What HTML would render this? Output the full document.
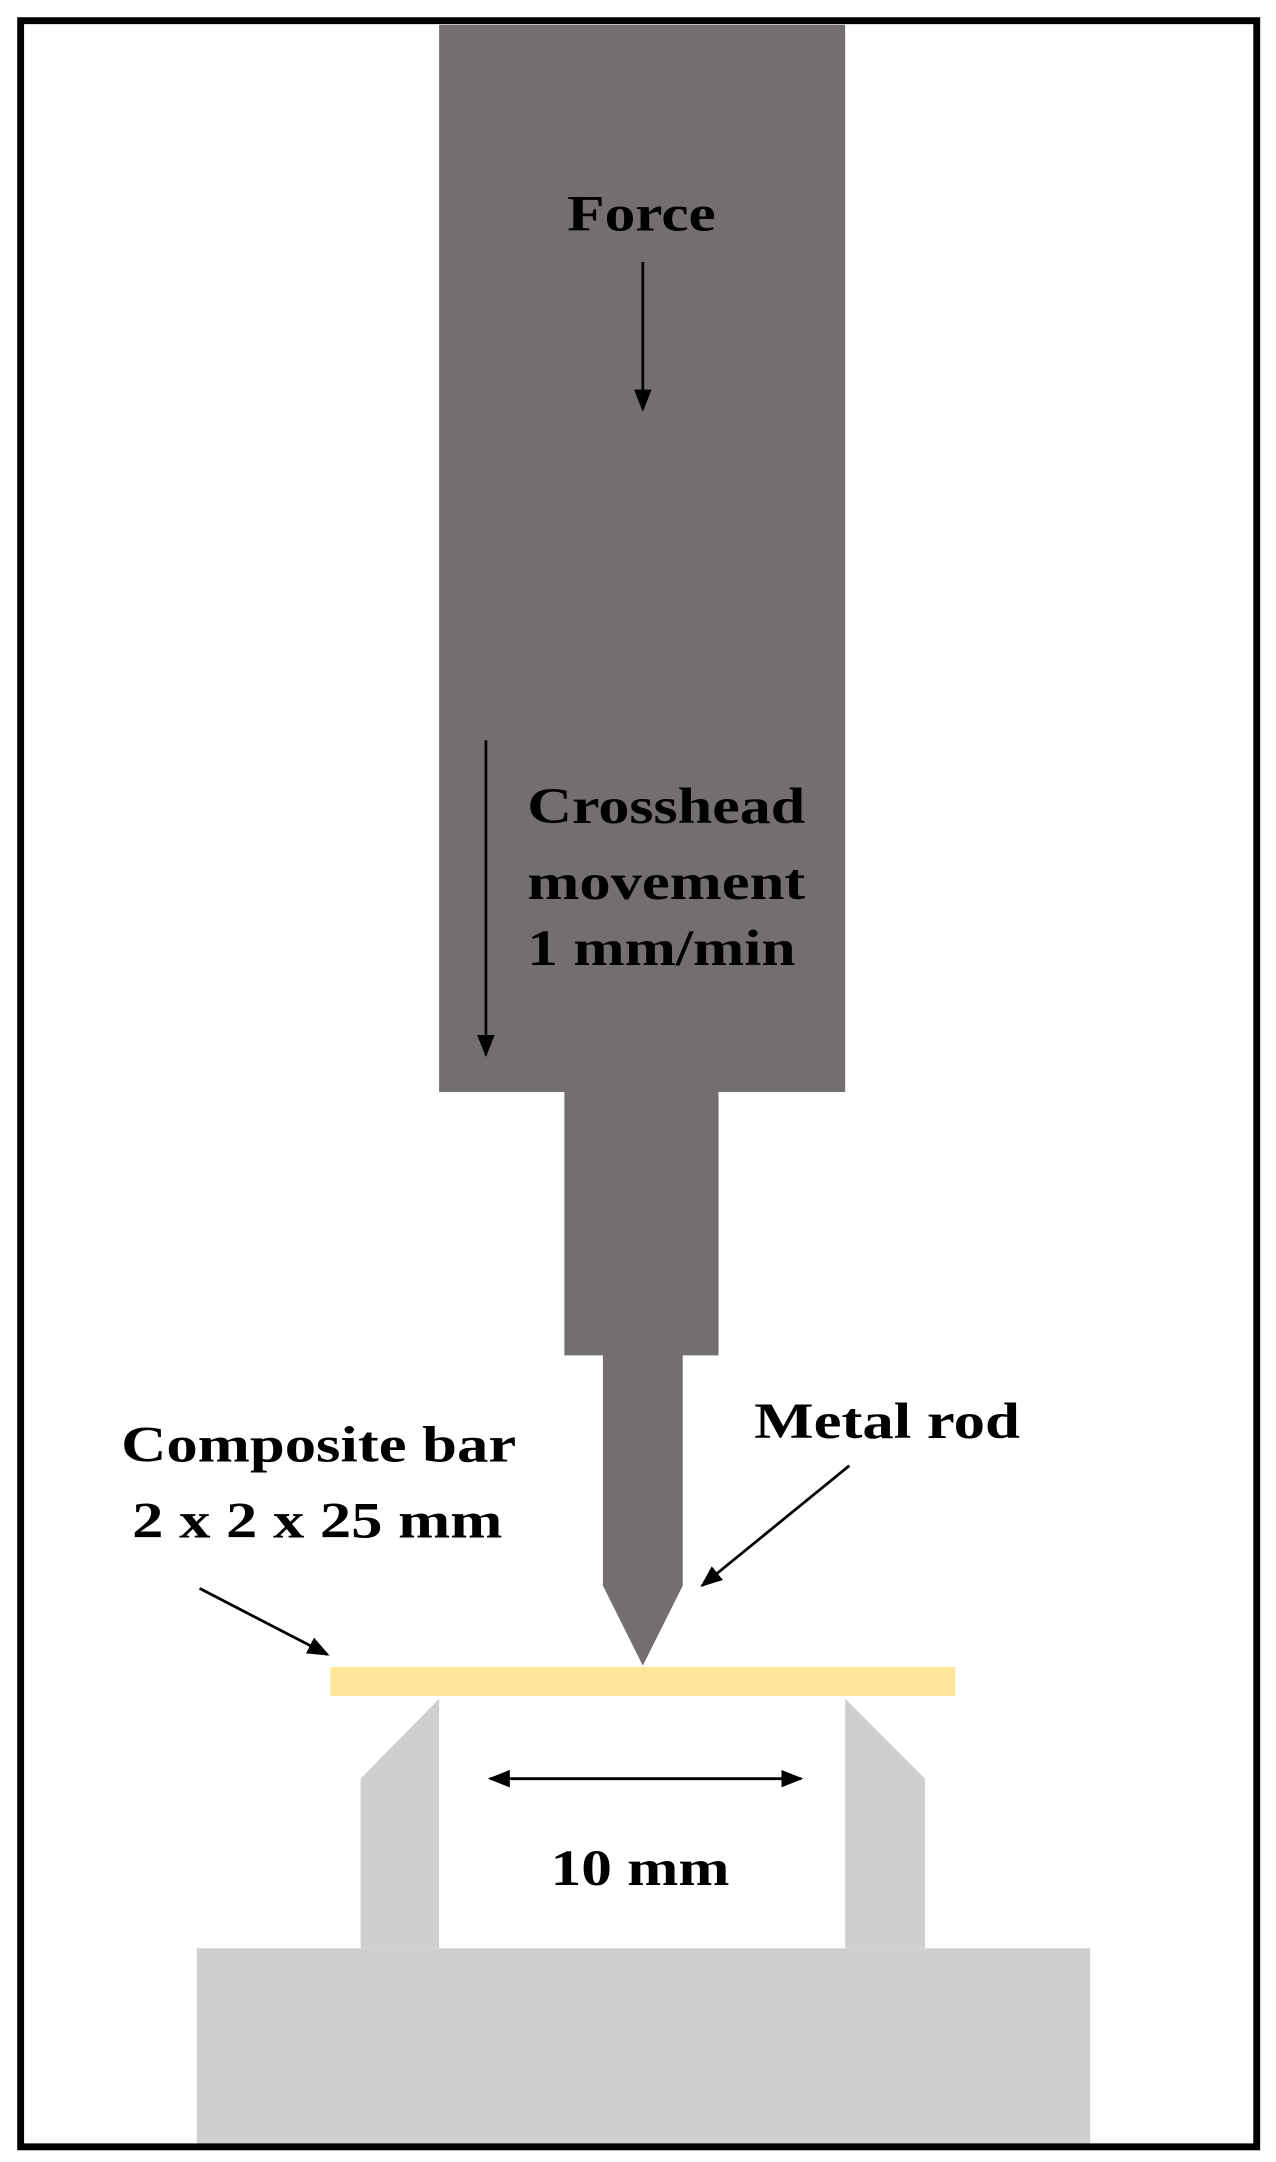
<!DOCTYPE html>
<html><head><meta charset="utf-8"><style>html,body{margin:0;padding:0;background:#fff}svg{display:block}</style></head>
<body>
<svg width="1276" height="2162" viewBox="0 0 927 1568" preserveAspectRatio="none" xmlns="http://www.w3.org/2000/svg">
<defs>
<marker id="a" viewBox="0 0 10 10" refX="9" refY="5" markerWidth="8" markerHeight="8" orient="auto-start-reverse"><path d="M0,1 L10,5 L0,9 z" fill="#000"/></marker>
</defs>
<rect width="927" height="1568" fill="#fff"/>
<rect x="319" y="18" width="295" height="774" fill="#736f6e"/>
<rect x="410" y="791" width="112" height="192" fill="#736f6e"/>
<path d="M438,981 L496,981 L496,1150 L467,1208 L438,1150 Z" fill="#736f6e"/>
<rect x="240" y="1209" width="454" height="21" fill="#ffe699"/>
<path d="M262,1290 L319,1232 L319,1413 L262,1413 Z" fill="#d0cece"/>
<path d="M614,1232 L672,1290 L672,1413 L614,1413 Z" fill="#d0cece"/>
<rect x="143" y="1413" width="649" height="144" fill="#d0cece"/>
<rect x="15" y="15" width="898" height="1542" fill="none" stroke="#000" stroke-width="5"/>
<g font-family="'Liberation Serif',serif" font-weight="bold" font-size="37" fill="#000" lengthAdjust="spacingAndGlyphs">
<text x="412" y="167" textLength="108" lengthAdjust="spacingAndGlyphs">Force</text>
<text x="383" y="597" textLength="202" lengthAdjust="spacingAndGlyphs">Crosshead</text>
<text x="383" y="652" textLength="202" lengthAdjust="spacingAndGlyphs">movement</text>
<text x="383" y="700" textLength="195" lengthAdjust="spacingAndGlyphs">1 mm/min</text>
<text x="548" y="1043" textLength="193" lengthAdjust="spacingAndGlyphs">Metal rod</text>
<text x="88" y="1060" textLength="287" lengthAdjust="spacingAndGlyphs">Composite bar</text>
<text x="96" y="1115" textLength="269" lengthAdjust="spacingAndGlyphs">2 x 2 x 25 mm</text>
<text x="400" y="1367" textLength="130" lengthAdjust="spacingAndGlyphs">10 mm</text>
</g>
<g stroke="#000" stroke-width="2" fill="none">
<line x1="467" y1="190" x2="467" y2="297" marker-end="url(#a)"/>
<line x1="353" y1="537" x2="353" y2="765" marker-end="url(#a)"/>
<line x1="617" y1="1063" x2="510" y2="1150" marker-end="url(#a)"/>
<line x1="145" y1="1152" x2="238" y2="1200" marker-end="url(#a)"/>
<line x1="356" y1="1290" x2="582" y2="1290" marker-start="url(#a)" marker-end="url(#a)"/>
</g>
</svg>
</body></html>
